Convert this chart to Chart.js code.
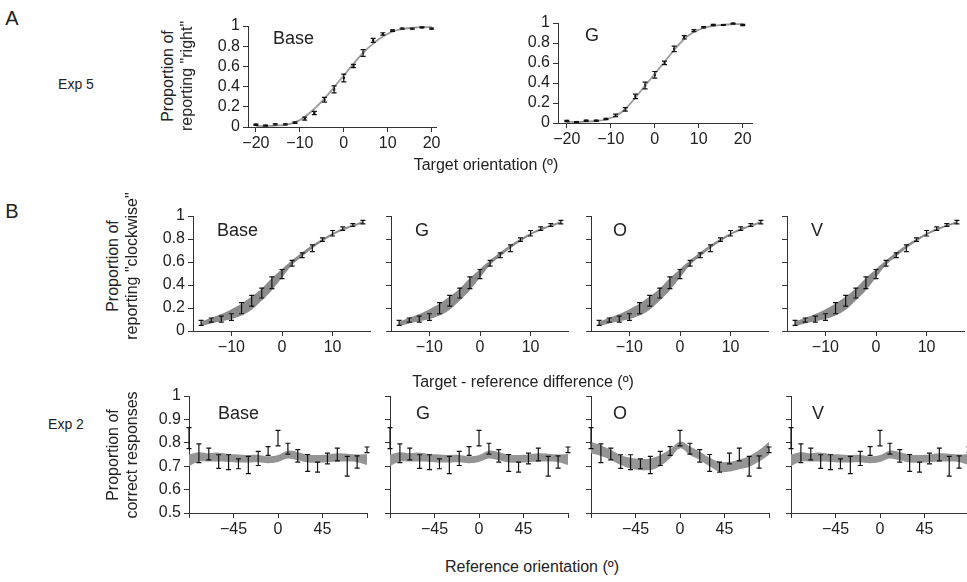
<!DOCTYPE html>
<html>
<head>
<meta charset="utf-8">
<script src="https://cdn.jsdelivr.net/npm/chart.js@4.4.1/dist/chart.umd.min.js"></script>
<style>
  html, body { margin: 0; padding: 0; background: #fff; overflow: hidden; }
  #fig { position: relative; width: 967px; height: 582px; font-family: "Liberation Sans", Arial, sans-serif; color: #222; }
  #fig canvas { position: absolute; }
  .txt { position: absolute; white-space: nowrap; line-height: 1; }
  .c { transform: translate(-50%, -50%); }
  .rot { transform: translate(-50%, -50%) rotate(-90deg); text-align: center; }
</style>
</head>
<body>
<div id="fig"></div>
<script>
// ---- data ----

// A: Exp 5, target orientation
const aX = [-20, -17.8, -15.6, -13.3, -11.1, -8.9, -6.7, -4.4, -2.2, 0, 2.2, 4.4, 6.7, 8.9, 11.1, 13.3, 15.6, 17.8, 20];
const aBaseY = [0.023, 0.013, 0.026, 0.026, 0.043, 0.083, 0.139, 0.27, 0.373, 0.485, 0.604, 0.733, 0.858, 0.921, 0.954, 0.974, 0.974, 0.987, 0.974];
const aBaseErr = [0.006, 0.005, 0.006, 0.006, 0.008, 0.014, 0.016, 0.023, 0.035, 0.038, 0.016, 0.033, 0.02, 0.012, 0.008, 0.006, 0.006, 0.005, 0.006];
const aBaseFit = [0.007, 0.01, 0.014, 0.022, 0.045, 0.1, 0.18, 0.28, 0.395, 0.51, 0.625, 0.735, 0.825, 0.895, 0.945, 0.97, 0.982, 0.988, 0.99];
const aGY = [0.02, 0.01, 0.023, 0.023, 0.04, 0.076, 0.136, 0.266, 0.375, 0.482, 0.601, 0.741, 0.857, 0.924, 0.957, 0.98, 0.98, 0.993, 0.98];
const aGErr = [0.006, 0.005, 0.006, 0.006, 0.007, 0.012, 0.017, 0.023, 0.033, 0.033, 0.017, 0.028, 0.017, 0.01, 0.007, 0.006, 0.005, 0.005, 0.006];
const aGFit = [0.01, 0.011, 0.014, 0.02, 0.035, 0.07, 0.14, 0.255, 0.375, 0.49, 0.61, 0.73, 0.84, 0.91, 0.95, 0.972, 0.983, 0.988, 0.99];

// B top: Exp 2, target - reference difference
const bX = [-16, -14, -12, -10, -8, -6, -4, -2, 0, 2, 4, 6, 8, 10, 12, 14, 16];
const bY = [0.071, 0.095, 0.104, 0.121, 0.198, 0.263, 0.33, 0.419, 0.495, 0.59, 0.659, 0.72, 0.795, 0.85, 0.89, 0.921, 0.947];
const bErr = [0.022, 0.018, 0.026, 0.029, 0.048, 0.046, 0.043, 0.051, 0.04, 0.025, 0.021, 0.029, 0.015, 0.024, 0.015, 0.012, 0.015];
const bBandLo = [0.043, 0.066, 0.085, 0.105, 0.135, 0.185, 0.265, 0.355, 0.465, 0.575, 0.648, 0.718, 0.778, 0.833, 0.873, 0.908, 0.938];
const bBandHi = [0.078, 0.115, 0.148, 0.19, 0.24, 0.3, 0.37, 0.46, 0.54, 0.615, 0.685, 0.748, 0.803, 0.853, 0.892, 0.923, 0.957];

// B bottom: Exp 2, reference orientation
const cX = [-90, -80, -70, -60, -50, -40, -30, -20, -10, 0, 10, 20, 30, 40, 50, 60, 70, 80, 90];
const cY = [0.82, 0.755, 0.752, 0.72, 0.717, 0.71, 0.705, 0.733, 0.765, 0.82, 0.775, 0.744, 0.714, 0.696, 0.733, 0.75, 0.70, 0.718, 0.77];
const cErr = [0.045, 0.04, 0.025, 0.029, 0.032, 0.021, 0.037, 0.03, 0.019, 0.033, 0.023, 0.027, 0.036, 0.021, 0.023, 0.027, 0.042, 0.026, 0.012];
const cBandLo = [0.70, 0.72, 0.72, 0.72, 0.718, 0.716, 0.716, 0.717, 0.713, 0.718, 0.733, 0.725, 0.716, 0.715, 0.717, 0.72, 0.72, 0.717, 0.705];
const cBandHi = [0.75, 0.76, 0.755, 0.758, 0.752, 0.75, 0.748, 0.748, 0.742, 0.748, 0.766, 0.76, 0.75, 0.748, 0.75, 0.755, 0.753, 0.75, 0.752];
const cOBandLo = [0.755, 0.744, 0.727, 0.705, 0.69, 0.684, 0.684, 0.70, 0.734, 0.776, 0.748, 0.727, 0.70, 0.677, 0.677, 0.687, 0.698, 0.72, 0.748];
const cOBandHi = [0.805, 0.79, 0.77, 0.748, 0.736, 0.731, 0.733, 0.748, 0.772, 0.805, 0.784, 0.762, 0.736, 0.719, 0.719, 0.729, 0.744, 0.769, 0.805];

const bNames = ["Base", "G", "O", "V"];

// ---- drawing ----
const FONT = '"Liberation Sans", Arial, sans-serif';
const AXIS = '#333';
const PADL = 60, PADR = 25, PADT = 14, PADB = 30;

const errorBars = {
  id: 'errorBars',
  afterDatasetsDraw(chart) {
    const ctx = chart.ctx;
    const xs = chart.scales.x, ys = chart.scales.y;
    ctx.save();
    ctx.strokeStyle = '#111';
    ctx.lineWidth = 1.2;
    chart.data.datasets.forEach(ds => {
      if (!ds.errors) return;
      ds.data.forEach((p, i) => {
        const e = ds.errors[i];
        const px = xs.getPixelForValue(p.x);
        const top = ys.getPixelForValue(p.y + e);
        const bot = ys.getPixelForValue(p.y - e);
        ctx.beginPath();
        ctx.moveTo(px, top); ctx.lineTo(px, bot);
        ctx.moveTo(px - 2.5, top); ctx.lineTo(px + 2.5, top);
        ctx.moveTo(px - 2.5, bot); ctx.lineTo(px + 2.5, bot);
        ctx.stroke();
      });
    });
    ctx.restore();
  }
};

function pts(xs, ys) {
  return xs.map((x, i) => ({ x: x, y: ys[i] }));
}

function fmt(v) {
  const r = Math.round(v * 10) / 10;
  return r < 0 ? '\u2212' + Math.abs(r) : String(r);
}

function makePanel(area, opt) {
  const w = area.r - area.l + PADL + PADR;
  const h = area.b - area.t + PADT + PADB;
  const cv = document.createElement('canvas');
  cv.width = w; cv.height = h;
  cv.style.left = (area.l - PADL) + 'px';
  cv.style.top = (area.t - PADT) + 'px';
  cv.style.width = w + 'px'; cv.style.height = h + 'px';
  document.getElementById('fig').appendChild(cv);

  new Chart(cv, {
    type: 'line',
    data: { datasets: opt.datasets },
    options: {
      responsive: false,
      animation: false,
      devicePixelRatio: 1,
      layout: { padding: { left: 0, top: PADT, right: PADR, bottom: 0 } },
      plugins: { legend: { display: false }, tooltip: { enabled: false } },
      elements: { point: { radius: 0 } },
      scales: {
        x: {
          type: 'linear', min: opt.xMin, max: opt.xMax,
          afterBuildTicks: s => { s.ticks = opt.xTicks.map(v => ({ value: v })); },
          afterFit: s => { s.height = PADB; },
          grid: { drawOnChartArea: false, drawTicks: true, tickLength: 5, color: AXIS },
          border: { display: true, color: AXIS, width: 1 },
          ticks: {
            color: '#222', padding: 2, maxRotation: 0, autoSkip: false,
            font: { family: FONT, size: 16 },
            callback: v => opt.xHide && opt.xHide.includes(v) ? '' : fmt(v)
          }
        },
        y: {
          type: 'linear', min: opt.yMin, max: opt.yMax,
          afterBuildTicks: s => { s.ticks = opt.yTicks.map(v => ({ value: v })); },
          afterFit: s => { s.width = PADL; },
          grid: { drawOnChartArea: false, drawTicks: true, tickLength: 5, color: AXIS },
          border: { display: true, color: AXIS, width: 1 },
          ticks: {
            color: '#222', padding: 3, autoSkip: false,
            font: { family: FONT, size: 16 },
            callback: v => opt.yLabels ? fmt(v) : ''
          }
        }
      }
    },
    plugins: [errorBars]
  });
}

function fitPanel(xs, ys, fit, err) {
  return [
    { data: pts(xs, fit), borderColor: '#9a9a9a', borderWidth: 1.8, tension: 0.4, fill: false, clip: false },
    { data: pts(xs, ys), showLine: false, errors: err, pointRadius: 1.6, pointStyle: 'rect',
      pointBackgroundColor: '#111', pointBorderWidth: 0, clip: false }
  ];
}

function bandPanel(xs, ys, err, lo, hi, col) {
  return [
    { data: pts(xs, lo), borderWidth: 0, borderColor: col, tension: 0.4, fill: false, clip: false },
    { data: pts(xs, hi), borderWidth: 0, borderColor: col, backgroundColor: col, tension: 0.4, fill: '-1', clip: false },
    { data: pts(xs, ys), showLine: false, errors: err, pointRadius: 0, clip: false }
  ];
}

const tickA = [-20, -10, 0, 10, 20];
const tickY1 = [0, 0.2, 0.4, 0.6, 0.8, 1];
const tickY2 = [0.5, 0.6, 0.7, 0.8, 0.9, 1];

// A panels
makePanel({ l: 248, t: 26, r: 436, b: 127 }, {
  xMin: -21.8, xMax: 21, xTicks: tickA, yMin: 0, yMax: 1, yTicks: tickY1, yLabels: true,
  datasets: fitPanel(aX, aBaseY, aBaseFit, aBaseErr)
});
makePanel({ l: 558, t: 23, r: 752, b: 123 }, {
  xMin: -22, xMax: 22.1, xTicks: tickA, yMin: 0, yMax: 1, yTicks: tickY1, yLabels: true,
  datasets: fitPanel(aX, aGY, aGFit, aGErr)
});

// B top row
const bLefts = [193, 391, 591, 787];
bLefts.forEach((l, i) => {
  makePanel({ l: l, t: 216, r: l + 177, b: 331 }, {
    xMin: -17.6, xMax: 17.4, xTicks: [-10, 0, 10], yMin: 0, yMax: 1, yTicks: tickY1, yLabels: i === 0,
    datasets: bandPanel(bX, bY, bErr, bBandLo, bBandHi, '#8c8c8c')
  });
});

// B bottom row
const cLefts = [189, 390, 591, 791];
cLefts.forEach((l, i) => {
  const lo = bNames[i] === 'O' ? cOBandLo : cBandLo;
  const hi = bNames[i] === 'O' ? cOBandHi : cBandHi;
  makePanel({ l: l, t: 396, r: l + 178, b: 513 }, {
    xMin: -90, xMax: 90, xTicks: [-90, -45, 0, 45, 90], xHide: [-90, 90],
    yMin: 0.5, yMax: 1, yTicks: tickY2, yLabels: i === 0,
    datasets: bandPanel(cX, cY, cErr, lo, hi, '#959595')
  });
});

// ---- text ----
function label(text, x, y, size, cls) {
  const d = document.createElement('div');
  d.className = 'txt ' + (cls || '');
  d.textContent = text;
  d.style.left = x + 'px';
  d.style.top = y + 'px';
  d.style.fontSize = size + 'px';
  document.getElementById('fig').appendChild(d);
}

label('A', 12, 18, 20, 'c');
label('B', 12, 211, 20, 'c');
label('Exp 5', 76, 84, 14, 'c');
label('Exp 2', 66, 424, 14, 'c');

label('Proportion of', 168, 76, 16, 'rot');
label('reporting "right"', 187, 76, 16, 'rot');
label('Proportion of', 113, 266, 16, 'rot');
label('reporting "clockwise"', 132, 266, 16, 'rot');
label('Proportion of', 113, 455, 16, 'rot');
label('correct responses', 132, 455, 16, 'rot');

label('Target orientation (\u00ba)', 486, 165, 16, 'c');
label('Target - reference difference (\u00ba)', 523, 382, 16, 'c');
label('Reference orientation (\u00ba)', 532, 567, 16, 'c');

label('Base', 273, 29, 18);
label('G', 585, 26, 18);
const nameTop1 = [217, 415, 613, 811];
nameTop1.forEach((x, i) => label(bNames[i], x, 221, 18));
const nameTop2 = [218, 416, 613, 812];
nameTop2.forEach((x, i) => label(bNames[i], x, 404, 18));
</script>
</body>
</html>
